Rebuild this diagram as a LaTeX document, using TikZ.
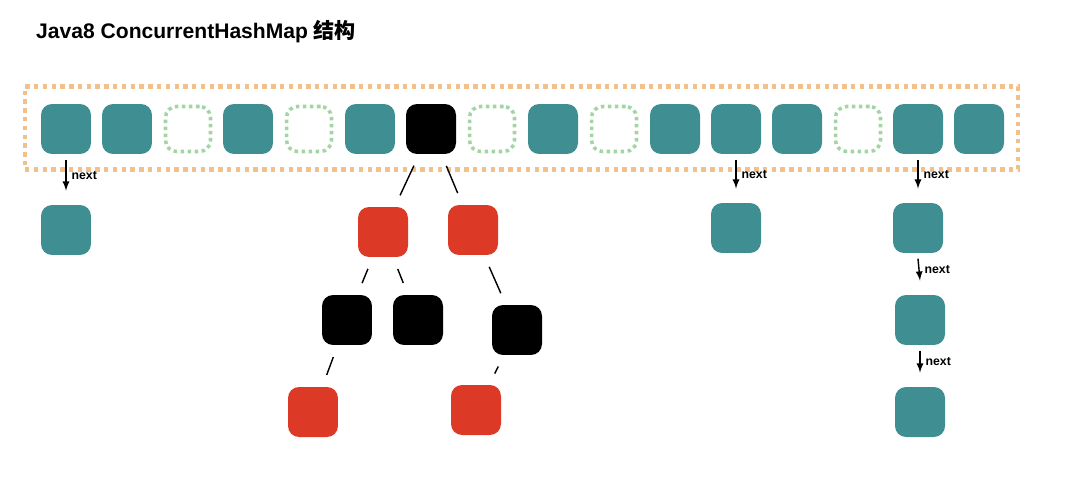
\documentclass[tikz,border=0pt]{standalone}
\usepackage{fontspec}
\setmainfont{Liberation Sans}
\newfontfamily\cjk{Noto Sans CJK SC}
\begin{document}
\begin{tikzpicture}[x=0.02cm,y=-0.02cm,
 cell/.style={minimum size=1cm,inner sep=0,rounded corners=2.2mm},
 tl/.style={cell,fill=teal0},
 rd/.style={cell,fill=red0},
 bk/.style={cell,fill=black},
 em/.style={cell,minimum size=0.9cm,draw=green0,line width=2pt,dash pattern=on 2pt off 2pt},
 nx/.style={-latex,thick},
 ed/.style={thick,shorten >=0.25cm,shorten <=0.25cm},
 lab/.style={font=\bfseries\scriptsize,anchor=west,inner sep=1pt}]
\definecolor{teal0}{HTML}{3F8E91}
\definecolor{red0}{HTML}{DC3A26}
\definecolor{green0}{HTML}{A3D4A3}
\definecolor{orange0}{HTML}{F2C08A}
\useasboundingbox (0,0) rectangle (1075,497);
\node[anchor=west,font=\bfseries\large] (title) at (30,32) {Java8 ConcurrentHashMap {\cjk\bfseries 结构}};
\node[draw=orange0,line width=2.5pt,dash pattern=on 2.5pt off 2.5pt,minimum width=993*0.02cm,minimum height=83*0.02cm,inner sep=0] (arr) at (521.5,128) {};
\foreach \x/\s/\n in {66/tl/c1,127/tl/c2,188/em/c3,248/tl/c4,309/em/c5,370/tl/c6,431/bk/c7,492/em/c8,553/tl/c9,614/em/c10,675/tl/c11,736/tl/c12,797/tl/c13,858/em/c14,918/tl/c15,979/tl/c16}
  \node[\s] (\n) at (\x,129) {};
\node[tl] (a1) at (66,230) {};
\node[tl] (b1) at (736,228) {};
\node[tl] (d1) at (918,228) {};
\node[tl] (d2) at (920,320) {};
\node[tl] (d3) at (920,412) {};
\node[rd] (r1) at (383,232) {};
\node[rd] (r2) at (473,230) {};
\node[bk] (k1) at (347,320) {};
\node[bk] (k2) at (418,320) {};
\node[bk] (k3) at (517,330) {};
\node[rd] (r3) at (313,412) {};
\node[rd] (r4) at (476,410) {};
\foreach \a/\b in {c1/a1,c12/b1,c15/d1,d1/d2,d2/d3}{
  \draw[nx] ([yshift=-3pt]\a.south) -- ([yshift=8pt]\b.north) coordinate[midway] (m\b);
  \node[lab] at ([xshift=2pt]m\b) {next};}
\foreach \a/\b in {c7/r1,c7/r2,r1/k1,r1/k2,r2/k3,k1/r3,k3/r4}
  \draw[ed] (\a) -- (\b);
\end{tikzpicture}
\end{document}
